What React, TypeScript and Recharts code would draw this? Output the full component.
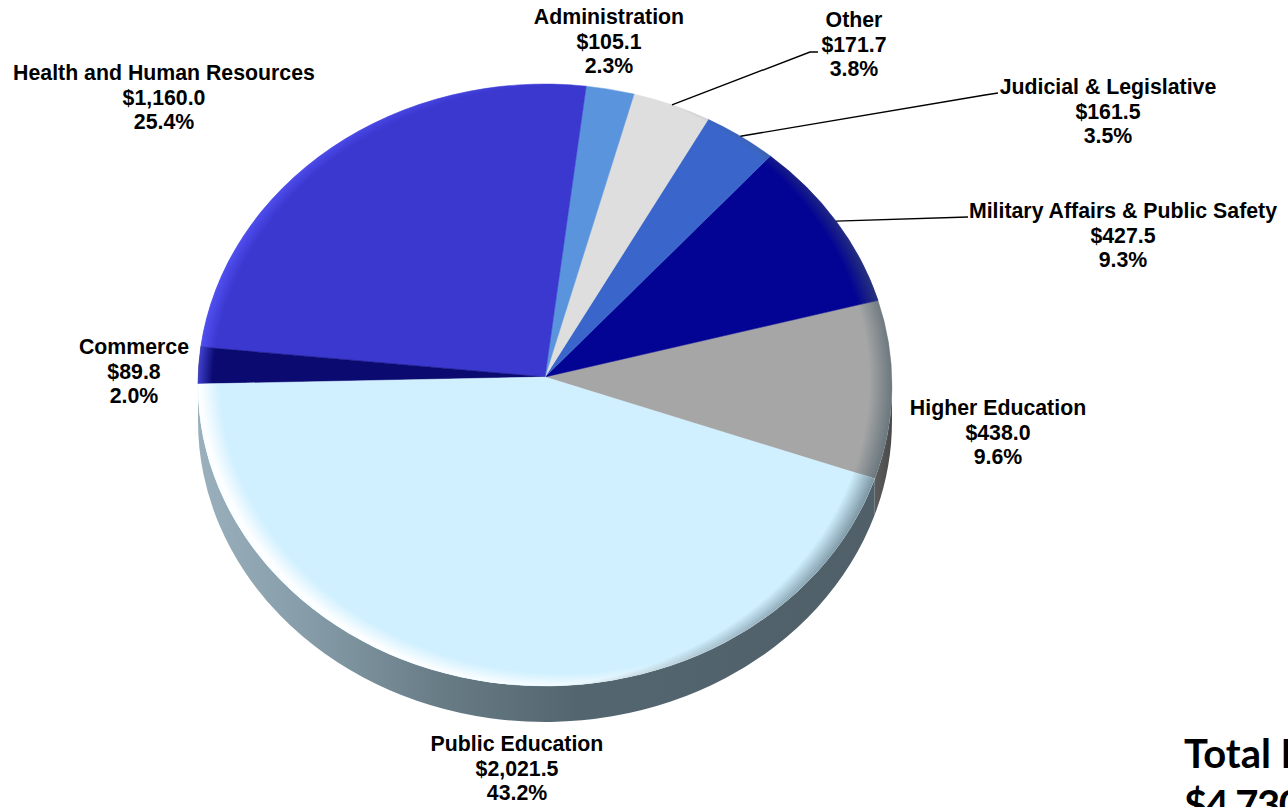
import { Pie, PieChart } from "recharts";

// counter-clockwise from the Higher Education / Public Education edge
const categories = [
	"Higher Education",
	"Military Affairs & Public Safety",
	"Judicial & Legislative",
	"Other",
	"Administration",
	"Health and Human Resources",
	"Commerce",
	"Public Education",
];
const amounts = [438.0, 427.5, 161.5, 171.7, 105.1, 1160.0, 89.8, 2021.5];
const shares = ["9.6%", "9.3%", "3.5%", "3.8%", "2.3%", "25.4%", "2.0%", "43.2%"];
const colors = [
	"#a6a6a6",
	"#040494",
	"#3a66cc",
	"#dedede",
	"#5a94dc",
	"#3b38d0",
	"#0a0a70",
	"#d0f0ff",
];

// label centre x and first baseline y
const labelSpots = [
	[998, 415],
	[1123, 218],
	[1108, 94],
	[854, 27],
	[609, 24],
	[164, 80],
	[134, 354],
	[517, 751],
];
// leader line bends, in picture coordinates, empty = no leader
const leaderBends: number[][][] = [
	[],
	[[968, 217]],
	[[985, 95], [998, 93]],
	[[810, 52], [818, 52]],
	[],
	[],
	[],
	[],
];

const tableRows = categories.map((name, i) => ({
	name,
	value: amounts[i],
	share: shares[i],
	fill: colors[i],
	index: i,
}));

const APEX_X = 545;
const APEX_Y = 377;
const RX = 347;
const RY = 301;
const ELLIPSE_Y = 385; // the tilted disc's centre sits below the apex
const DEPTH = 36;
const GLOW = 1.2; // rim gradients run past the ellipse, stops are divided by this
const LABEL_FONT = "'Liberation Sans', Arial, sans-serif";

// where a pie angle from the apex meets the rim of the ellipse
function rimPoint(angle: number) {
	const rad = (angle * Math.PI) / 180;
	const dx = Math.cos(rad);
	const dy = -Math.sin(rad);
	const py = (APEX_Y - ELLIPSE_Y) / RY;
	const b = py * dy;
	const t = -b + Math.sqrt(b * b - (py * py - 1));
	const ux = dx * t;
	const uy = py + dy * t;
	return { x: APEX_X + ux * RX, y: ELLIPSE_Y + uy * RY, ux, uy };
}

function sectorPath(start: number, end: number) {
	const a = rimPoint(start);
	const b = rimPoint(end);
	const large = end - start > 180 ? 1 : 0;
	return `M${APEX_X},${APEX_Y} L${a.x},${a.y} A${RX},${RY} 0 ${large} 0 ${b.x},${b.y} Z`;
}

function SideWall(props: any) {
	const a = rimPoint(props.startAngle);
	const b = rimPoint(props.endAngle);
	const toDeg = (p: { ux: number; uy: number }) => {
		const d = (Math.atan2(-p.uy, p.ux) * 180) / Math.PI;
		return d < 0 ? d + 360 : d;
	};
	let from = toDeg(a);
	let to = toDeg(b);
	if (to < from) to += 360;
	if (from < 180 && to <= 180) return <g />;
	from = Math.max(from, 180);
	to = Math.min(to, 360);
	if (to <= from) return <g />;
	const at = (d: number) => {
		const r = (d * Math.PI) / 180;
		return [APEX_X + RX * Math.cos(r), ELLIPSE_Y - RY * Math.sin(r)];
	};
	const [x1, y1] = at(from);
	const [x2, y2] = at(to);
	const large = to - from > 180 ? 1 : 0;
	const path = `M${x1},${y1} A${RX},${RY} 0 ${large} 0 ${x2},${y2} L${x2},${y2 + DEPTH} A${RX},${RY} 0 ${large} 1 ${x1},${y1 + DEPTH} Z`;
	const isPublic = props.name === "Public Education";
	return <path d={path} fill={isPublic ? "url(#wallBlue)" : "url(#wallGrey)"} />;
}

function Face(props: any) {
	const d = sectorPath(props.startAngle, props.endAngle);
	const isPublic = props.name === "Public Education";
	return (
		<g>
			<path d={d} fill={props.fill} stroke={props.fill} strokeWidth={0.5} />
			<path d={d} fill={isPublic ? "url(#rimWhite)" : "url(#rimSoft)"} />
			<path d={d} fill="url(#rimDark)" />
		</g>
	);
}

function SliceLabel(props: any) {
	const i = props.index;
	const row = tableRows[i];
	const [x, y] = labelSpots[i];
	const bends = leaderBends[i];
	const mid = rimPoint(props.midAngle);
	const line = [[mid.x, mid.y], ...bends].map((p) => p.join(",")).join(" ");
	const money = `$${row.value.toLocaleString("en-US", { minimumFractionDigits: 1 })}`;
	return (
		<g>
			{bends.length > 0 && (
				<polyline fill="none" points={line} stroke="#000" strokeWidth={1.4} />
			)}
			<text
				fill="#000"
				fontFamily={LABEL_FONT}
				fontSize={21.3}
				fontWeight="bold"
				textAnchor="middle"
				x={x}
				y={y}
			>
				<tspan x={x}>{row.name}</tspan>
				<tspan dy={24.5} x={x}>
					{money}
				</tspan>
				<tspan dy={24.5} x={x}>
					{row.share}
				</tspan>
			</text>
		</g>
	);
}

function rimGradient(id: string, shiftX: number, shiftY: number, color: string, from: number, to: number, opacity: number) {
	return (
		<radialGradient
			cx="0"
			cy="0"
			gradientTransform={`translate(${APEX_X + shiftX},${ELLIPSE_Y + shiftY}) scale(${RX * GLOW},${RY * GLOW})`}
			gradientUnits="userSpaceOnUse"
			id={id}
			r="1"
		>
			<stop offset={from / GLOW} stopColor={color} stopOpacity="0" />
			<stop offset={to / GLOW} stopColor={color} stopOpacity={opacity} />
		</radialGradient>
	);
}

export default function App() {
	return (
		<div style={{ position: "absolute", left: 0, top: 0, width: 1288, height: 807, overflow: "hidden" }}>
			<PieChart height={807} width={1288} margin={{ top: 0, right: 0, bottom: 0, left: 0 }}>
				<defs>
					<linearGradient gradientUnits="userSpaceOnUse" id="wallBlue" x1="197" x2="892" y1="0" y2="0">
						<stop offset="0" stopColor="#9ab0bc" />
						<stop offset="0.15" stopColor="#879eaa" />
						<stop offset="0.35" stopColor="#687c86" />
						<stop offset="0.55" stopColor="#536670" />
						<stop offset="1" stopColor="#505f68" />
					</linearGradient>
					<linearGradient gradientUnits="userSpaceOnUse" id="wallGrey" x1="860" x2="892" y1="0" y2="0">
						<stop offset="0" stopColor="#6b6b6b" />
						<stop offset="1" stopColor="#4a4a4a" />
					</linearGradient>
					{rimGradient("rimWhite", 18, -10, "#ffffff", 0.99, 1.045, 0.95)}
					{rimGradient("rimSoft", 18, 4, "#5a5aff", 1.01, 1.055, 0.7)}
					{rimGradient("rimDark", -30, -4, "#455a66", 1.02, 1.09, 0.65)}
				</defs>
				<Pie
					cx={APEX_X}
					cy={APEX_Y}
					data={tableRows}
					dataKey="value"
					endAngle={340.4}
					isAnimationActive={false}
					label={false}
					labelLine={false}
					nameKey="name"
					outerRadius={RX}
					shape={SideWall}
					startAngle={-19.6}
					stroke="none"
				/>
				<Pie
					cx={APEX_X}
					cy={APEX_Y}
					data={tableRows}
					dataKey="value"
					endAngle={340.4}
					isAnimationActive={false}
					label={SliceLabel}
					labelLine={false}
					nameKey="name"
					outerRadius={RX}
					shape={Face}
					startAngle={-19.6}
					stroke="none"
				/>
				<text fill="#000" fontFamily="Lato, sans-serif" fontSize={40} fontWeight="bold" x={1184} y={768}>
					<tspan x={1184}>Total Funds</tspan>
					<tspan dy={51} letterSpacing={-1.5} x={1184}>
						$4,730.0
					</tspan>
				</text>
			</PieChart>
		</div>
	);
}
